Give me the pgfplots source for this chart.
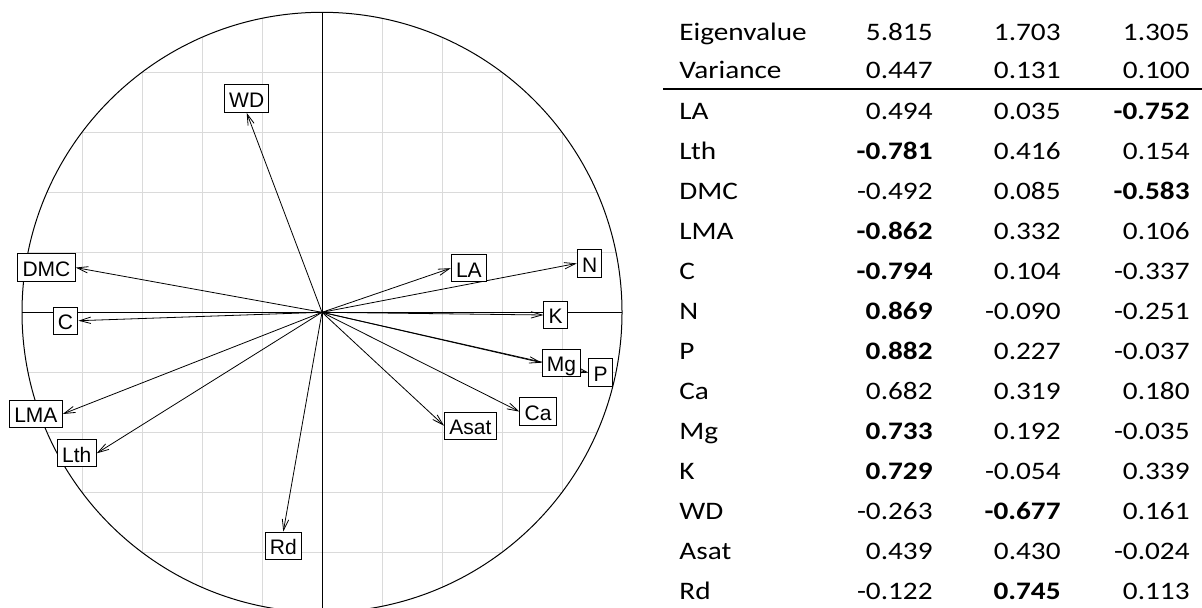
\documentclass[border=0pt]{standalone}
\usepackage{fontspec}
\setmainfont{Liberation Sans}
\newfontfamily\tabfont{Carlito}[FakeStretch=1.16]
\usepackage{pgfplots}
\pgfplotsset{compat=1.18}
\usepackage{pgfplotstable}
\usetikzlibrary{arrows.meta}

\definecolor{gridgray}{RGB}{218,218,218}

% loadings as drawn in the correlation circle, grouped by label side
\pgfplotstableread{
label x y
WD -0.251 0.665
}\labS
\pgfplotstableread{
label x y
Rd -0.129 -0.731
}\labN
\pgfplotstableread{
label x y
DMC -0.821 0.149
C -0.812 -0.028
LMA -0.864 -0.339
Lth -0.751 -0.470
}\labE
\pgfplotstableread{
label x y
LA 0.429 0.147
N 0.849 0.163
K 0.738 -0.009
Mg 0.732 -0.168
P 0.888 -0.201
Ca 0.658 -0.331
Asat 0.407 -0.378
}\labW

\newcommand{\trow}[5]{%
  \node[anchor=base west] at (679,#1) {#2};
  \node[anchor=base east] at (933,#1) {#3};
  \node[anchor=base east] at (1061,#1) {#4};
  \node[anchor=base east] at (1190,#1) {#5};
}

\pgfplotsset{
  arr/.style={black, line width=0.4pt, mark=none, -{Straight Barb[length=5.5pt,width=3.2pt]}},
  lab/.style={draw=none, mark=none, nodes near coords, point meta=explicit symbolic,
    every node near coord/.append style={anchor=#1, draw=black, fill=white,
    line width=0.5pt, inner xsep=2.4pt, inner ysep=0pt,
    text height=11.3pt, text depth=2.35pt, text=black,
    font=\fontsize{10.5pt}{12pt}\selectfont}},
}

\begin{document}
\begin{tikzpicture}
\path[use as bounding box] (0,0) rectangle (601pt,-304pt);
\begin{axis}[
  at={(161pt,-156.15pt)}, anchor=center,
  width=300pt, height=300pt, scale only axis,
  xmin=-1, xmax=1, ymin=-1, ymax=1,
  hide axis, clip=false,
]
% grid clipped to the circle
\draw[gridgray, line width=0.5pt] (axis cs:-0.9798,0.2) -- (axis cs:0.9798,0.2);
\draw[gridgray, line width=0.5pt] (axis cs:-0.9798,-0.2) -- (axis cs:0.9798,-0.2);
\draw[gridgray, line width=0.5pt] (axis cs:-0.9165,0.4) -- (axis cs:0.9165,0.4);
\draw[gridgray, line width=0.5pt] (axis cs:-0.9165,-0.4) -- (axis cs:0.9165,-0.4);
\draw[gridgray, line width=0.5pt] (axis cs:-0.8,0.6) -- (axis cs:0.8,0.6);
\draw[gridgray, line width=0.5pt] (axis cs:-0.8,-0.6) -- (axis cs:0.8,-0.6);
\draw[gridgray, line width=0.5pt] (axis cs:-0.6,0.8) -- (axis cs:0.6,0.8);
\draw[gridgray, line width=0.5pt] (axis cs:-0.6,-0.8) -- (axis cs:0.6,-0.8);
\draw[gridgray, line width=0.5pt] (axis cs:0.2,-0.9798) -- (axis cs:0.2,0.9798);
\draw[gridgray, line width=0.5pt] (axis cs:-0.2,-0.9798) -- (axis cs:-0.2,0.9798);
\draw[gridgray, line width=0.5pt] (axis cs:0.4,-0.9165) -- (axis cs:0.4,0.9165);
\draw[gridgray, line width=0.5pt] (axis cs:-0.4,-0.9165) -- (axis cs:-0.4,0.9165);
\draw[gridgray, line width=0.5pt] (axis cs:0.6,-0.8) -- (axis cs:0.6,0.8);
\draw[gridgray, line width=0.5pt] (axis cs:-0.6,-0.8) -- (axis cs:-0.6,0.8);
\draw[gridgray, line width=0.5pt] (axis cs:0.8,-0.6) -- (axis cs:0.8,0.6);
\draw[gridgray, line width=0.5pt] (axis cs:-0.8,-0.6) -- (axis cs:-0.8,0.6);
% axes and circle
\draw[black, line width=0.5pt] (axis cs:-1,0) -- (axis cs:1,0);
\draw[black, line width=0.5pt] (axis cs:0,1) -- (axis cs:0,-1.05);
\draw[black, line width=0.5pt] (axis cs:0,0) circle [radius=1];
% arrows
\addplot[arr] coordinates {(0,0) (-0.251,0.665)};
\addplot[arr] coordinates {(0,0) (-0.821,0.149)};
\addplot[arr] coordinates {(0,0) (-0.812,-0.028)};
\addplot[arr] coordinates {(0,0) (-0.864,-0.339)};
\addplot[arr] coordinates {(0,0) (-0.751,-0.470)};
\addplot[arr] coordinates {(0,0) (-0.129,-0.731)};
\addplot[arr] coordinates {(0,0) (0.429,0.147)};
\addplot[arr] coordinates {(0,0) (0.849,0.163)};
\addplot[arr] coordinates {(0,0) (0.738,-0.009)};
\addplot[arr] coordinates {(0,0) (0.732,-0.168)};
\addplot[arr] coordinates {(0,0) (0.888,-0.201)};
\addplot[arr] coordinates {(0,0) (0.658,-0.331)};
\addplot[arr] coordinates {(0,0) (0.407,-0.378)};
% labels
\addplot[lab=south] table[x=x, y=y, meta=label] {\labS};
\addplot[lab=north] table[x=x, y=y, meta=label] {\labN};
\addplot[lab=east] table[x=x, y=y, meta=label] {\labE};
\addplot[lab=west] table[x=x, y=y, meta=label] {\labW};
\end{axis}
\begin{scope}[x=0.5pt, y=-0.5pt, every node/.style={inner sep=0pt, font=\tabfont\fontsize{12.6pt}{14pt}\selectfont}]
\trow{40.7}{Eigenvalue}{5.815}{1.703}{1.305}
\trow{78.3}{Variance}{0.447}{0.131}{0.100}
\draw[black, line width=0.8pt] (663,89) -- (1202,89);
\trow{119.3}{LA}{0.494}{0.035}{\bfseries -0.752}
\trow{159.3}{Lth}{\bfseries -0.781}{0.416}{0.154}
\trow{199.3}{DMC}{-0.492}{0.085}{\bfseries -0.583}
\trow{239.3}{LMA}{\bfseries -0.862}{0.332}{0.106}
\trow{279.3}{C}{\bfseries -0.794}{0.104}{-0.337}
\trow{319.3}{N}{\bfseries 0.869}{-0.090}{-0.251}
\trow{359.3}{P}{\bfseries 0.882}{0.227}{-0.037}
\trow{399.3}{Ca}{0.682}{0.319}{0.180}
\trow{439.3}{Mg}{\bfseries 0.733}{0.192}{-0.035}
\trow{479.3}{K}{\bfseries 0.729}{-0.054}{0.339}
\trow{519.3}{WD}{-0.263}{\bfseries -0.677}{0.161}
\trow{559.3}{Asat}{0.439}{0.430}{-0.024}
\trow{599.3}{Rd}{-0.122}{\bfseries 0.745}{0.113}
\end{scope}
\end{tikzpicture}
\end{document}
